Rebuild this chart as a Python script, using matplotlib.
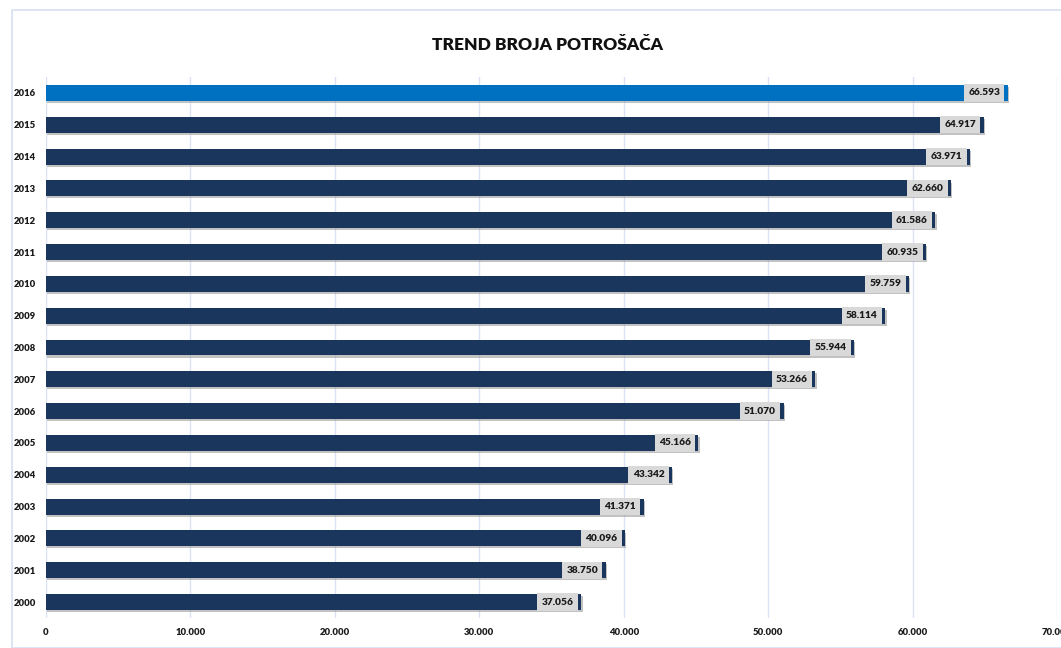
import matplotlib
matplotlib.use("Agg")
import matplotlib.pyplot as plt
import matplotlib.patheffects as pe
from matplotlib.patches import Rectangle
from matplotlib.ticker import FuncFormatter

years = ["2000", "2001", "2002", "2003", "2004", "2005", "2006", "2007", "2008",
         "2009", "2010", "2011", "2012", "2013", "2014", "2015", "2016"]
values = [37056, 38750, 40096, 41371, 43342, 45166, 51070, 53266, 55944,
          58114, 59759, 60935, 61586, 62660, 63971, 64917, 66593]
title = "TREND BROJA POTROŠAČA"
xticks = [0, 10000, 20000, 30000, 40000, 50000, 60000, 70000]

FONT = ["Lato", "DejaVu Sans"]
plt.rcParams["font.family"] = FONT

W, H = 1061, 648
fig = plt.figure(figsize=(W / 100, H / 100), dpi=100)

# outer chart border
fig.patches.append(Rectangle((12 / W, 0), (W - 12) / W + 0.01, (H - 10) / H,
                             transform=fig.transFigure, fill=False,
                             edgecolor="#dae3f3", linewidth=1.3))

ax = fig.add_axes([46 / W, 30 / H, (1057 - 46) / W, (618 - 77) / H])
ax.set_xlim(0, 70000)
ax.set_ylim(-0.5, len(years) - 0.5)

colors = ["#1b365d"] * (len(years) - 1) + ["#0070c0"]
ys = list(range(len(years)))
bars = ax.barh(ys, values, height=0.5, color=colors, zorder=3)
for b in bars:
    b.set_path_effects([pe.SimplePatchShadow(offset=(1.0, -1.5), shadow_rgbFace="#9a9a9a", alpha=0.6),
                        pe.Normal()])

for y, v in zip(ys, values):
    s = f"{v:,}".replace(",", ".")
    ax.annotate(s, xy=(v, y), xytext=(-5.5, 0), textcoords="offset points",
                ha="right", va="center", fontsize=7.3, fontweight="heavy",
                color="#1a1a1a", zorder=5,
                bbox=dict(boxstyle="square,pad=0.42", fc="#d9d9d9", ec="none"))

ax.set_xticks(xticks)
ax.xaxis.set_major_formatter(FuncFormatter(lambda x, p: f"{int(x):,}".replace(",", ".")))
ax.set_yticks(ys)
ax.set_yticklabels(years)
ax.grid(axis="x", color="#dae3f3", linewidth=1, zorder=0)
for s in ax.spines.values():
    s.set_visible(False)
ax.tick_params(axis="both", length=0, labelsize=6.8, colors="#1a1a1a")
ax.tick_params(axis="x", pad=7)
ax.tick_params(axis="y", pad=7)
for lab in ax.get_xticklabels() + ax.get_yticklabels():
    lab.set_fontweight("heavy")

fig.text(547 / W, 1 - 45 / H, title, ha="center", va="center",
         fontsize=12.5, fontweight="heavy", color="#111111")

fig.savefig("out.png", dpi=100)
